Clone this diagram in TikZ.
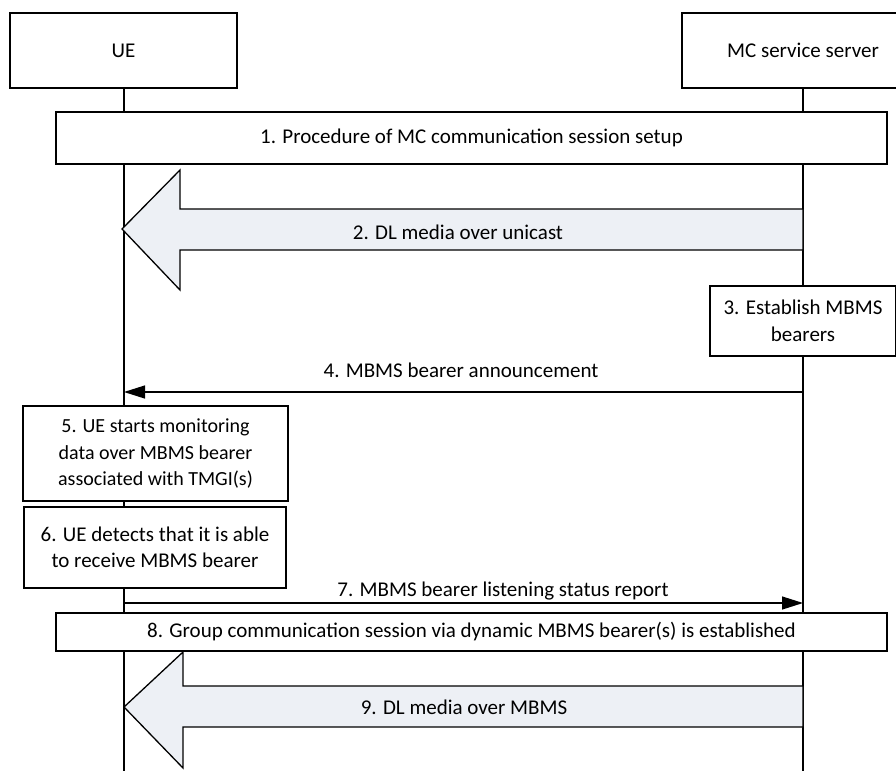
\documentclass[tikz,border=0pt]{standalone}
\usepackage{fontspec}
\setmainfont{Carlito}
\usetikzlibrary{arrows.meta}
\definecolor{mediafill}{HTML}{EDF0F5}
\tikzset{
  box/.style={draw, line width=1.3pt, fill=white, inner sep=0pt, align=center},
  msg/.style={line width=1.3pt, -{Triangle[length=21pt,width=13pt]}},
  fatarrow/.style={draw, line width=1.3pt, fill=mediafill, line join=miter},
  lbl/.style={inner sep=0pt, anchor=base}
}
\begin{document}
\begin{tikzpicture}[x=1pt, y=-1pt, font=\fontsize{21}{26.5}\selectfont]
\clip (0,0) rectangle (896,771);
\useasboundingbox (0,0) rectangle (896,771);

% lifelines
\coordinate (ueEnd) at (124,771);
\coordinate (srvEnd) at (803,771);
\draw[line width=1.3pt] (124,88) -- (ueEnd);
\draw[line width=1.3pt] (803,88) -- (srvEnd);

% UE and MC service server
\node[box, minimum width=227pt, minimum height=75pt] (ue) at (123.5,50.5) {UE};
\node[box, minimum width=242pt, minimum height=75pt] (srv) at (803,50.5) {MC service server};

% 1. setup
\node[box, minimum width=831pt, minimum height=52pt] (setup) at (471.5,138) {1. Procedure of MC communication session setup};

% 2. DL media over unicast
\draw[fatarrow] (803,209) -- (180,209) -- (180,170) -- (122,229) -- (180,290) -- (180,250) -- (803,250) -- cycle;
\node[lbl] (unicast) at (458,239) {2. DL media over unicast};

% 3. establish bearers
\node[box, minimum width=186pt, minimum height=70pt] (est) at (803,321) {3. Establish MBMS\\bearers};

% 4. announcement
\coordinate (annS) at (803,392);
\coordinate (annU) at (124,392);
\draw[msg] (annS) -- (annU);
\node[lbl] (ann) at (461,377) {4. MBMS bearer announcement};

% 5. and 6. on the UE side
\node[box, minimum width=265pt, minimum height=95pt, font=\fontsize{20}{26.5}\selectfont] (monitor) at (155.5,453.5) {5. UE starts monitoring\\data over MBMS bearer\\associated with TMGI(s)};
\node[box, minimum width=262pt, minimum height=81pt] (detect) at (155,547.5) {6. UE detects that it is able\\to receive MBMS bearer};

% 7. listening status report
\coordinate (repU) at (124,603);
\coordinate (repS) at (803,603);
\draw[msg] (repU) -- (repS);
\node[lbl] (rep) at (503,596) {7. MBMS bearer listening status report};

% 8. session established
\node[box, minimum width=831pt, minimum height=38pt] (session) at (471.5,632) {8. Group communication session via dynamic MBMS bearer(s) is established};

% 9. DL media over MBMS
\draw[fatarrow] (803,686) -- (183,686) -- (183,652) -- (124,707) -- (183,768) -- (183,727) -- (803,727) -- cycle;
\node[lbl] (mbms) at (464,714) {9. DL media over MBMS};

\end{tikzpicture}
\end{document}
